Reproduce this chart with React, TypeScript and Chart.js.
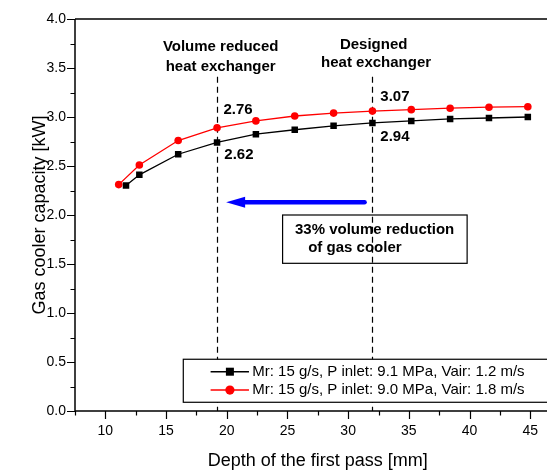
import React, { useEffect, useRef } from 'react';
import { Chart, registerables } from 'chart.js';

Chart.register(...registerables);

const FONT = "'Liberation Sans', Arial, Helvetica, sans-serif";

// Series data
const depthBlack = [11.7, 12.8, 16.0, 19.2, 22.4, 25.6, 28.8, 32.0, 35.2, 38.4, 41.6, 44.8];
const capBlack = [2.3, 2.41, 2.62, 2.74, 2.825, 2.87, 2.91, 2.94, 2.96, 2.98, 2.99, 3.0];
const depthRed = [11.1, 12.8, 16.0, 19.2, 22.4, 25.6, 28.8, 32.0, 35.2, 38.4, 41.6, 44.8];
const capRed = [2.31, 2.51, 2.76, 2.89, 2.96, 3.01, 3.04, 3.06, 3.075, 3.09, 3.1, 3.105];
const seriesLabels = [
  'Mr: 15 g/s, P inlet: 9.1 MPa, Vair: 1.2 m/s',
  'Mr: 15 g/s, P inlet: 9.0 MPa, Vair: 1.8 m/s',
];

// Axes
const X_MIN = 7.5;
const X_MAX = 47.5;
const Y_MIN = 0;
const Y_MAX = 4;
const xMajorTicks = [10, 15, 20, 25, 30, 35, 40, 45];
const xMinorTicks = [7.5, 12.5, 17.5, 22.5, 27.5, 32.5, 37.5, 42.5, 47.5];
const yMajorTicks = [0, 0.5, 1, 1.5, 2, 2.5, 3, 3.5, 4];
const yMinorTicks = [0.25, 0.75, 1.25, 1.75, 2.25, 2.75, 3.25, 3.75];

// Annotations
const dividerDepths = [19.2, 32.0];
const dividerTop = 3.41;
const headerTexts = [
  { text: 'Volume reduced', x: 19.5, y: 3.717 },
  { text: 'heat exchanger', x: 19.5, y: 3.513 },
  { text: 'Designed', x: 32.1, y: 3.735 },
  { text: 'heat exchanger', x: 32.3, y: 3.548 },
];
const valueLabels = [
  { text: '2.76', x: 19.73, y: 3.071 },
  { text: '2.62', x: 19.8, y: 2.612 },
  { text: '3.07', x: 32.65, y: 3.201 },
  { text: '2.94', x: 32.65, y: 2.793 },
];
const arrowFrom = { x: 31.35, y: 2.13 };
const arrowTo = { x: 19.95, y: 2.13 };
const noteBox = { x1: 24.6, x2: 39.8, y1: 2.0, y2: 1.507 };
const noteLines = [
  { text: '33% volume reduction', x: 32.18, y: 1.847, align: 'center' },
  { text: 'of gas cooler', x: 26.71, y: 1.66, align: 'left' },
];
const legendBox = { x1: 16.42, y1: 0.528, y2: 0.089 };
const legendRows = [0.401, 0.214];
const legendLine = { x1: 18.67, x2: 21.83, mark: 20.26, text: 22.1 };

const overlay = {
  id: 'overlay',
  beforeDatasetsDraw(chart: any) {
    const { ctx, chartArea: a, scales } = chart;
    const x = scales.x;
    const y = scales.y;
    const px = (v: number) => x.getPixelForValue(v);
    const py = (v: number) => y.getPixelForValue(v);
    ctx.save();

    // dashed dividers
    ctx.strokeStyle = '#000';
    ctx.lineWidth = 1.2;
    ctx.setLineDash([6, 4]);
    for (const d of dividerDepths) {
      ctx.beginPath();
      ctx.moveTo(Math.round(px(d)) + 0.5, py(dividerTop));
      ctx.lineTo(Math.round(px(d)) + 0.5, a.bottom);
      ctx.stroke();
    }
    ctx.setLineDash([]);

    // frame
    ctx.lineWidth = 1.5;
    ctx.beginPath();
    ctx.moveTo(a.left, a.top);
    ctx.lineTo(a.right + 20, a.top);
    ctx.moveTo(a.left, a.top);
    ctx.lineTo(a.left, a.bottom);
    ctx.lineTo(a.right + 20, a.bottom);
    ctx.stroke();

    // ticks
    ctx.lineWidth = 1.2;
    ctx.beginPath();
    for (const t of xMajorTicks) {
      const p = Math.round(px(t)) + 0.5;
      ctx.moveTo(p, a.bottom);
      ctx.lineTo(p, a.bottom + 8);
    }
    for (const t of xMinorTicks) {
      const p = Math.round(px(t)) + 0.5;
      ctx.moveTo(p, a.bottom);
      ctx.lineTo(p, a.bottom + 4.5);
    }
    for (const t of yMajorTicks) {
      const p = Math.round(py(t)) + 0.5;
      ctx.moveTo(a.left, p);
      ctx.lineTo(a.left - 8, p);
    }
    for (const t of yMinorTicks) {
      const p = Math.round(py(t)) + 0.5;
      ctx.moveTo(a.left, p);
      ctx.lineTo(a.left - 4.5, p);
    }
    ctx.stroke();

    // note box
    ctx.lineWidth = 1.2;
    ctx.strokeRect(px(noteBox.x1), py(noteBox.y1), px(noteBox.x2) - px(noteBox.x1), py(noteBox.y2) - py(noteBox.y1));

    // arrow
    const ax1 = px(arrowFrom.x);
    const ax2 = px(arrowTo.x);
    const ay = py(arrowFrom.y);
    ctx.strokeStyle = '#0000FF';
    ctx.fillStyle = '#0000FF';
    ctx.lineWidth = 4.6;
    ctx.lineCap = 'round';
    ctx.beginPath();
    ctx.moveTo(ax1, ay);
    ctx.lineTo(ax2 + 17, ay);
    ctx.stroke();
    ctx.lineCap = 'butt';
    ctx.beginPath();
    ctx.moveTo(ax2, ay);
    ctx.lineTo(ax2 + 19, ay - 5.5);
    ctx.lineTo(ax2 + 19, ay + 5.5);
    ctx.closePath();
    ctx.fill();

    // texts
    ctx.fillStyle = '#000';
    ctx.font = `bold 15px ${FONT}`;
    ctx.textBaseline = 'middle';
    ctx.textAlign = 'center';
    for (const t of headerTexts) ctx.fillText(t.text, px(t.x), py(t.y));
    ctx.textAlign = 'left';
    for (const t of valueLabels) ctx.fillText(t.text, px(t.x), py(t.y));
    for (const t of noteLines) {
      ctx.textAlign = t.align as CanvasTextAlign;
      ctx.fillText(t.text, px(t.x), py(t.y));
    }
    ctx.restore();
  },
  afterDatasetsDraw(chart: any) {
    const { ctx, chartArea: a, scales } = chart;
    const x = scales.x;
    const y = scales.y;
    const px = (v: number) => x.getPixelForValue(v);
    const py = (v: number) => y.getPixelForValue(v);
    ctx.save();
    const bx = px(legendBox.x1);
    const by = py(legendBox.y1);
    const bh = py(legendBox.y2) - by;
    ctx.fillStyle = '#fff';
    ctx.fillRect(bx, by, a.right + 20 - bx, bh);
    ctx.strokeStyle = '#000';
    ctx.lineWidth = 1.2;
    ctx.strokeRect(bx, by, a.right + 20 - bx, bh);

    chart.data.datasets.forEach((ds: any, i: number) => {
      const ry = py(legendRows[i]);
      ctx.strokeStyle = ds.borderColor;
      ctx.lineWidth = 1.5;
      ctx.beginPath();
      ctx.moveTo(px(legendLine.x1), ry);
      ctx.lineTo(px(legendLine.x2), ry);
      ctx.stroke();
      ctx.fillStyle = ds.pointBackgroundColor;
      const mx = px(legendLine.mark);
      if (ds.pointStyle === 'rect') {
        ctx.fillRect(mx - 4, ry - 4, 8, 8);
      } else {
        ctx.beginPath();
        ctx.arc(mx, ry, 4.6, 0, Math.PI * 2);
        ctx.fill();
      }
      ctx.fillStyle = '#000';
      ctx.font = `15px ${FONT}`;
      ctx.textAlign = 'left';
      ctx.textBaseline = 'middle';
      ctx.fillText(ds.label, px(legendLine.text), ry);
    });
    ctx.restore();
  },
};

export default function App() {
  const ref = useRef<HTMLCanvasElement>(null);
  useEffect(() => {
    if (!ref.current) return;
    const chart = new Chart(ref.current, {
      type: 'scatter',
      data: {
        datasets: [
          {
            label: seriesLabels[0],
            data: depthBlack.map((d, i) => ({ x: d, y: capBlack[i] })),
            showLine: true,
            borderColor: '#000000',
            backgroundColor: '#000000',
            pointBackgroundColor: '#000000',
            pointBorderColor: '#000000',
            pointStyle: 'rect',
            pointRadius: 4.6,
            pointBorderWidth: 0,
            borderWidth: 1.3,
          },
          {
            label: seriesLabels[1],
            data: depthRed.map((d, i) => ({ x: d, y: capRed[i] })),
            showLine: true,
            borderColor: '#FF0000',
            backgroundColor: '#FF0000',
            pointBackgroundColor: '#FF0000',
            pointBorderColor: '#FF0000',
            pointStyle: 'circle',
            pointRadius: 3.8,
            pointBorderWidth: 0,
            borderWidth: 1.3,
          },
        ],
      },
      plugins: [overlay],
      options: {
        responsive: false,
        devicePixelRatio: 1,
        animation: false,
        events: [],
        layout: { padding: { left: 0, right: 14.4, top: 19, bottom: 0 }, autoPadding: false },
        plugins: { legend: { display: false }, tooltip: { enabled: false } },
        scales: {
          x: {
            type: 'linear',
            min: X_MIN,
            max: X_MAX,
            afterBuildTicks: (s: any) => { s.ticks = xMajorTicks.map((v) => ({ value: v })); },
            afterFit: (s: any) => { s.height = 59; },
            grid: { display: false, drawTicks: false },
            border: { display: false },
            ticks: { font: { family: FONT, size: 14 }, color: '#000', padding: 12, callback: (v: any) => String(v) },
            title: {
              display: true,
              text: 'Depth of the first pass [mm]',
              color: '#000',
              font: { family: FONT, size: 18, lineHeight: 1 },
              padding: { top: 0, bottom: 0 },
            },
          },
          y: {
            type: 'linear',
            min: Y_MIN,
            max: Y_MAX,
            afterBuildTicks: (s: any) => { s.ticks = yMajorTicks.map((v) => ({ value: v })); },
            afterFit: (s: any) => { s.width = 75; },
            grid: { display: false, drawTicks: false },
            border: { display: false },
            ticks: { font: { family: FONT, size: 14 }, color: '#000', padding: 9, callback: (v: any) => Number(v).toFixed(1) },
            title: {
              display: true,
              text: 'Gas cooler capacity [kW]',
              color: '#000',
              font: { family: FONT, size: 18, lineHeight: 1 },
              padding: { top: 31, bottom: 0 },
            },
          },
        },
      },
    } as any);
    return () => chart.destroy();
  }, []);
  return (
    <div style={{ position: 'fixed', left: 0, top: 0, width: 547, height: 470, overflow: 'hidden', background: '#fff' }}>
      <canvas ref={ref} width={575} height={470} style={{ display: 'block', width: 575, height: 470 }} />
    </div>
  );
}
